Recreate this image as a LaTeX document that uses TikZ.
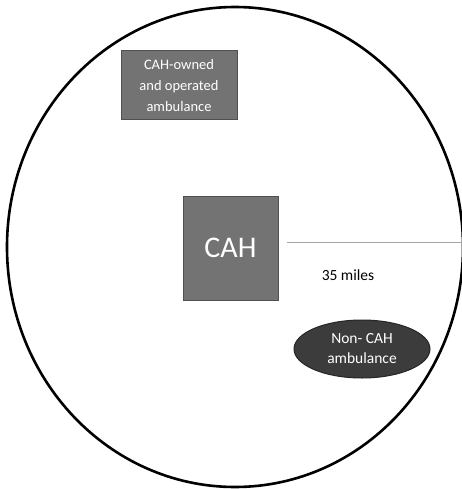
\documentclass[tikz,border=0pt]{standalone}
\usepackage{fontspec}
\setmainfont{Carlito}
\usetikzlibrary{positioning, shapes.geometric}

\definecolor{boxgray}{HTML}{737373}
\definecolor{boxedge}{HTML}{505050}
\definecolor{ovalgray}{HTML}{3C3C3C}

\begin{document}
\begin{tikzpicture}[
            x = 1pt, y = -1pt, % pixel-like units
            line width = 1pt
        ]

        \tikzstyle{hospital}=[
            draw = boxedge,
            fill = boxgray,
            text = white,
            minimum width = 95pt,
            minimum height = 104pt,
            font = \fontsize{30}{32}\selectfont
        ]
        \tikzstyle{owned}=[
            draw = boxedge,
            fill = boxgray,
            text = white,
            align = center,
            minimum width = 116pt,
            minimum height = 69pt,
            font = \fontsize{14.5}{21}\selectfont
        ]
        \tikzstyle{other}=[
            ellipse,
            draw = black!85,
            fill = ovalgray,
            text = white,
            align = center,
            inner sep = 0pt,
            minimum width = 136pt,
            minimum height = 58pt,
            font = \fontsize{15.5}{20}\selectfont
        ]

        \useasboundingbox (0,0) rectangle (462,489);

        % service area
        \draw[line width = 2.6pt] (235,247) ellipse [x radius = 228, y radius = 240];

        \node[hospital] (cah) at (230.5,248) {CAH};
        \node[owned] (own) at (179,85.5) {CAH-owned\\and operated\\ambulance};
        \node[other] (non) at (362,349) {Non- CAH\\ambulance};

        \coordinate (r0) at (287,242);
        \coordinate (r1) at (462,242);
        \draw[gray!70, line width = 0.8pt] (r0) -- (r1);
        \node[font = \fontsize{15.5}{18}\selectfont] (dist) at (348,275) {35 miles};

    \end{tikzpicture}
\end{document}
